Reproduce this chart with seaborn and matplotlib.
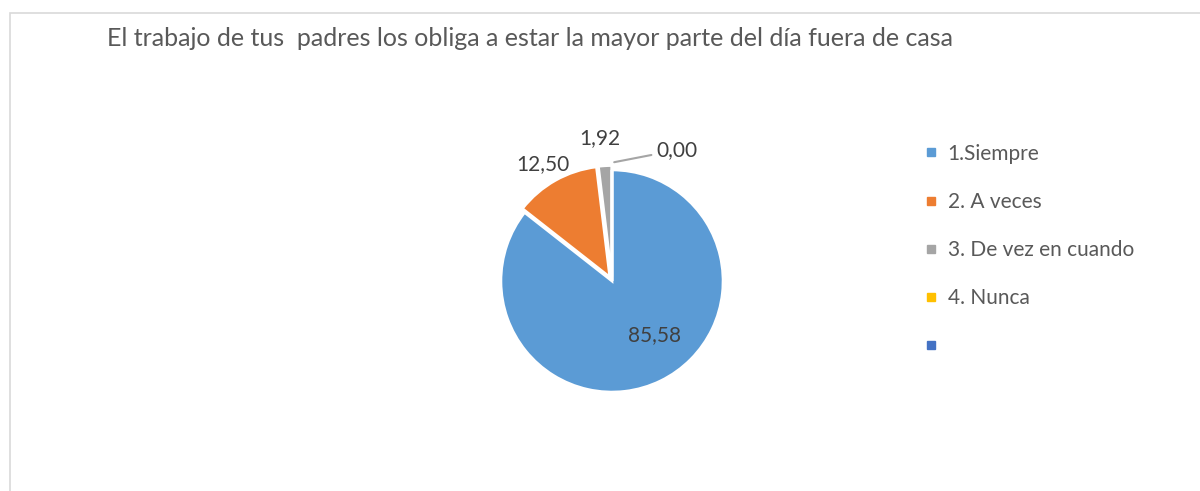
import numpy as np
import seaborn as sns
import matplotlib.pyplot as plt
from matplotlib.lines import Line2D
from matplotlib.patches import Rectangle

title = "El trabajo de tus  padres los obliga a estar la mayor parte del día fuera de casa"
categories = ["1.Siempre", "2. A veces", "3. De vez en cuando", "4. Nunca", ""]
values = [85.58, 12.50, 1.92, 0.00, 0.00]
value_labels = ["85,58", "12,50", "1,92", "0,00", ""]
colors = ["#5B9BD5", "#ED7D31", "#A5A5A5", "#FFC000", "#4472C4"]

sns.set_theme(style="white")
plt.rcParams['font.family'] = ['Lato', 'DejaVu Sans']
text_color = "#595959"
label_color = "#404040"

fig = plt.figure(figsize=(12, 4.91), dpi=100)

# light frame of the chart area (cropped at right/bottom)
fig.patches.append(Rectangle((10 / 1200, -0.1), 1.2, 1 - 13 / 491 + 0.1,
                             transform=fig.transFigure, fill=False,
                             edgecolor="#D9D9D9", lw=1.2))

fig.text(107 / 1200, 1 - 39 / 491, title, color=text_color, fontsize=18,
         va="center", ha="left")

ax = fig.add_axes([(612 - 220) / 1200, (491 - 281 - 220) / 491, 440 / 1200, 440 / 491])
wedges, _ = ax.pie(values, colors=colors, startangle=90, counterclock=False,
                   radius=1.01, explode=[0, 0.04, 0.04, 0, 0],
                   wedgeprops=dict(edgecolor="white", linewidth=2))
ax.set_xlim(-2, 2)
ax.set_ylim(-2, 2)
ax.set_aspect("equal")
ax.axis("off")

# label distance (in radii) for each slice's value text
label_dist = [0.6, 1.22, 1.3, 1.0, 1.0]
for i, w in enumerate(wedges):
    if not value_labels[i]:
        continue
    ang = np.deg2rad((w.theta1 + w.theta2) / 2)
    if i == 3:
        # zero slice: label with leader line
        ax.annotate(value_labels[i], xy=(0.02, 1.08), xytext=(0.4, 1.19),
                    fontsize=15, color=label_color, va="center", ha="left",
                    arrowprops=dict(arrowstyle="-", color="#A5A5A5", lw=1.5,
                                    shrinkA=1, shrinkB=0))
        continue
    r = label_dist[i]
    ax.text(r * np.cos(ang) + (0.12 if i == 0 else -0.03), r * np.sin(ang) + (0.05 if i == 0 else 0),
            value_labels[i], fontsize=15, color=label_color, ha="center", va="center")

handles = [Line2D([0], [0], marker="s", linestyle="", markersize=6,
                  markerfacecolor=c, markeredgecolor=c) for c in colors]
leg = fig.legend(handles, categories, loc="upper left",
                 bbox_to_anchor=(905 / 1200, 1 - 125 / 491), frameon=False,
                 fontsize=15, labelspacing=1.35, handlelength=0.7,
                 handletextpad=0.45, labelcolor=text_color)

fig.savefig("out.png", dpi=100, facecolor="white")
